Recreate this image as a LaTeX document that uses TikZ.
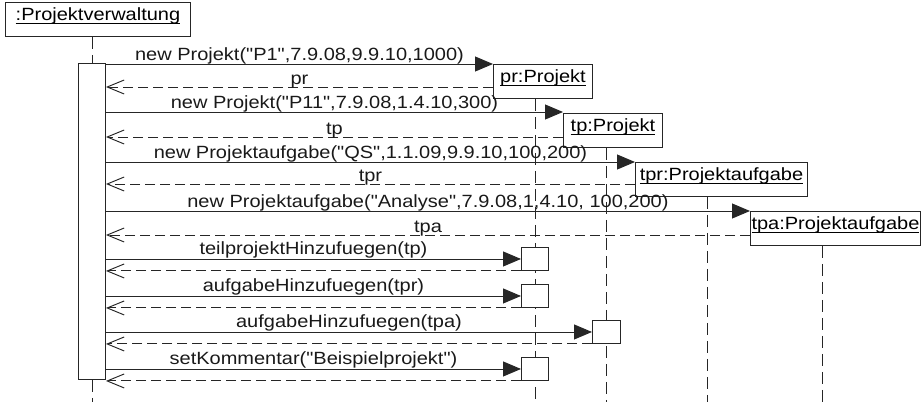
\documentclass[tikz,border=0pt]{standalone}
\usepackage{fontspec}
\setmainfont{Liberation Sans}[FakeStretch=1.13,Ligatures=TeXOff]
\usetikzlibrary{arrows.meta}
\newcommand\ulx[1]{\setbox0\hbox{#1}\rlap{\rule[-3pt]{\wd0}{0.9pt}}\box0}
\pgfdeclarelayer{bg}
\pgfsetlayers{bg,main}
\begin{document}
\begin{tikzpicture}[x=1pt,y=-1pt,font=\fontsize{17.7}{20}\selectfont,
  ln/.style={line width=0.95pt,draw=black!85},
  msg/.style={ln,-{Triangle[length=18pt,width=15pt]}},
  ret/.style={ln,dash pattern=on 10pt off 5pt,-{Straight Barb[length=17pt,width=14pt]}},
  life/.style={ln,dash pattern=on 12pt off 6pt},
  obj/.style={draw=black!85,line width=0.95pt,fill=white,inner xsep=0pt,inner ysep=0pt,
    text height=18pt,text depth=16pt,anchor=north west},
  act/.style={draw=black!85,line width=0.95pt,fill=white,inner sep=0pt,anchor=north west,minimum width=27pt},
  lbl/.style={anchor=base,inner sep=0pt,text=black!90}]
\useasboundingbox (0,0) rectangle (921,402);
\coordinate (bot) at (0,402);
% objects
\node[obj,minimum width=185pt] (pv) at (5,2) {\ulx{:Projektverwaltung}};
\node[obj,minimum width=99pt] (pr) at (493,64) {\ulx{pr:Projekt}};
\node[obj,minimum width=99pt] (tp) at (563,113) {\ulx{tp:Projekt}};
\node[obj,minimum width=172pt] (tpr) at (635,162) {\ulx{tpr:Projektaufgabe}};
\node[obj,minimum width=170pt] (tpa) at (750,211) {\ulx{tpa:Projektaufgabe}};
% activations
\node[act,minimum height=316pt] (act) at (78,63) {};
\node[act,minimum height=23pt] (a1) at (521,247) {};
\node[act,minimum height=23pt] (a2) at (521,284) {};
\node[act,minimum height=23pt,minimum width=28pt] (a3) at (592,320) {};
\node[act,minimum height=23pt] (a4) at (521,357) {};
% lifelines
\begin{pgfonlayer}{bg}
\draw[life] (act.north |- pv.south) -- (act.north);
\draw[life] (act.south) -- (act.south |- bot);
\draw[life] (a1.north |- pr.south) -- (a1.north |- bot);
\draw[life] (a3.north |- tp.south) -- (a3.north |- bot);
\draw[life] ([xshift=72pt]tpr.south west) -- ([xshift=72pt]tpr.south west |- bot);
\draw[life] ([xshift=72pt]tpa.south west) -- ([xshift=72pt]tpa.south west |- bot);
\end{pgfonlayer}
% return points
\path ([yshift=-23pt]pr.north west) coordinate (r1)
      ([yshift=-24pt]tp.north west) coordinate (r2)
      ([yshift=-22pt]tpr.north west) coordinate (r3)
      ([yshift=-24pt]tpa.north west) coordinate (r4);
% messages
\draw[msg] (act.east |- pr.north west) -- (pr.north west)
  node[lbl,midway,yshift=4pt] {new Projekt("P1",7.9.08,9.9.10,1000)};
\draw[ret] (r1) -- (act.east |- r1) node[lbl,midway,yshift=3pt] {pr};
\draw[msg] ([yshift=1pt]act.east |- tp.north west) -- ([yshift=1pt]tp.north west)
  node[lbl,midway,yshift=4pt] {new Projekt("P11",7.9.08,1.4.10,300)};
\draw[ret] (r2) -- (act.east |- r2) node[lbl,midway,yshift=3pt] {tp};
\draw[msg] (act.east |- tpr.north west) -- (tpr.north west)
  node[lbl,midway,yshift=4pt] {new Projektaufgabe("QS",1.1.09,9.9.10,100,200)};
\draw[ret] (r3) -- (act.east |- r3) node[lbl,midway,yshift=3pt] {tpr};
\draw[msg] (act.east |- tpa.north west) -- (tpa.north west)
  node[lbl,midway,yshift=4pt] {new Projektaufgabe("Analyse",7.9.08,1,4.10, 100,200)};
\draw[ret] (r4) -- (act.east |- r4) node[lbl,midway,yshift=3pt] {tpa};
\draw[msg] (act.east |- a1.west) -- (a1.west)
  node[lbl,midway,yshift=4pt] {teilprojektHinzufuegen(tp)};
\draw[ret] (a1.south west) -- (act.east |- a1.south west);
\draw[msg] (act.east |- a2.west) -- (a2.west)
  node[lbl,midway,yshift=4pt] {aufgabeHinzufuegen(tpr)};
\draw[ret] (a2.south west) -- (act.east |- a2.south west);
\draw[msg] (act.east |- a3.west) -- (a3.west)
  node[lbl,midway,yshift=4pt] {aufgabeHinzufuegen(tpa)};
\draw[ret] (a3.south west) -- (act.east |- a3.south west);
\draw[msg] (act.east |- a4.west) -- (a4.west)
  node[lbl,midway,yshift=4pt] {setKommentar("Beispielprojekt")};
\draw[ret] (a4.south west) -- (act.east |- a4.south west);
\end{tikzpicture}
\end{document}
